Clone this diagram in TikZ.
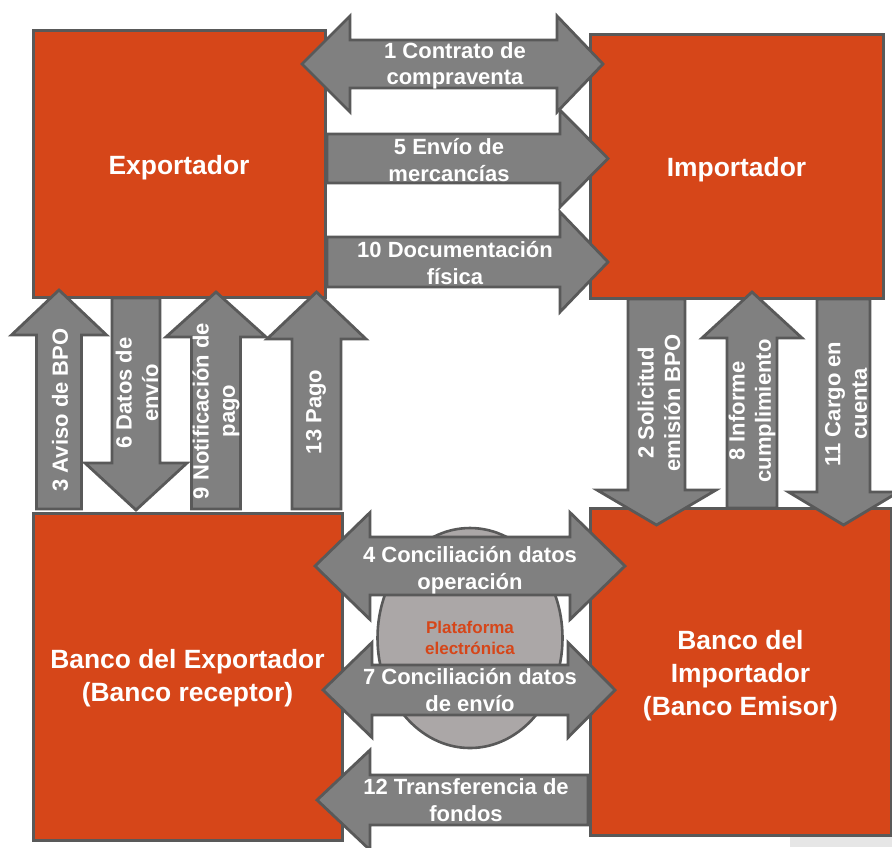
\documentclass[tikz,border=0pt]{standalone}
\usepackage{fontspec}
\setmainfont{Liberation Sans}
\usepackage{tikz}
\usetikzlibrary{shapes.geometric}
\definecolor{boxorange}{HTML}{D64619}
\definecolor{edgegray}{HTML}{595959}
\definecolor{arrowgray}{HTML}{808080}
\definecolor{platgray}{HTML}{ABA7A7}
\definecolor{shadowgray}{HTML}{E6E6E6}
\tikzset{party/.style={draw=edgegray,line width=1.5pt,fill=boxorange,inner sep=0pt},
partyname/.style={text=white,inner sep=0pt,align=center,font=\bfseries\fontsize{13.2}{16.4}\selectfont},
flow/.style={draw=edgegray,line width=1.4pt,fill=arrowgray,line join=miter},
flowlabel/.style={text=white,inner sep=0pt,align=center,font=\bfseries\fontsize{11}{13.2}\selectfont},
vlabel/.style={flowlabel,rotate=90}}

\begin{document}
\begin{tikzpicture}[x=0.5pt,y=-0.5pt]
\useasboundingbox (0,0) rectangle (892,847);
\fill[shadowgray] (790,835) rectangle (892,847);

\node[party,minimum width=146pt,minimum height=133.5pt,label={[partyname,yshift=-2pt]center:Exportador}] (exp) at (179,163.5){};
\node[party,minimum width=146.5pt,minimum height=132pt,label={[partyname,yshift=-2pt]center:Importador}] (imp) at (736.5,166){};
\node[party,minimum width=154.5pt,minimum height=163.5pt,label={[partyname,yshift=-1pt]center:Banco del Exportador\\(Banco receptor)}] (bexp) at (187.5,676.5){};
\node[party,minimum width=150.5pt,minimum height=163.5pt,label={[partyname,yshift=-2pt]center:Banco del\\Importador\\(Banco Emisor)}] (bimp) at (740.5,671.5){};

\node[ellipse,draw=edgegray,line width=1.3pt,fill=platgray,minimum width=92.5pt,minimum height=110pt,inner sep=0pt,align=center,text=boxorange,font=\bfseries\fontsize{8.5}{10.5}\selectfont] (plat) at (470,638){Plataforma\\electrónica};

% vertical arrows: center/shaft/head/start/base/tip
\foreach \c/\ws/\wh/\ys/\yh/\yt in {59/22.5/47.5/509/335/290,216/24.5/50/509/337/292,316.5/24.5/49.5/509/339/292,752/25/50/508/338/292,136/24/51/298/463/510,656.5/28.5/59.5/299/490/525,843.5/26.5/55/299/492/525}{
\draw[flow] (\c-\ws,\ys) -- (\c-\ws,\yh) -- (\c-\wh,\yh) -- (\c,\yt) -- (\c+\wh,\yh) -- (\c+\ws,\yh) -- (\c+\ws,\ys) -- cycle;
}

% horizontal single arrows
\foreach \c/\ws/\wh/\xs/\xh/\xt in {158.5/24.5/48.5/327/560/608,262/25/50/327/560/608,800/25/50/588/370/317}{
\draw[flow] (\xs,\c-\ws) -- (\xh,\c-\ws) -- (\xh,\c-\wh) -- (\xt,\c) -- (\xh,\c+\wh) -- (\xh,\c+\ws) -- (\xs,\c+\ws) -- cycle;
}

% horizontal double arrows
\foreach \c/\ws/\wh/\xa/\xb/\xc/\xd in {64/24/48/302/350/557/603,566/29/53.5/315/370/570/625,690/25/47.5/323/372/568/615}{
\draw[flow] (\xa,\c) -- (\xb,\c-\wh) -- (\xb,\c-\ws) -- (\xc,\c-\ws) -- (\xc,\c-\wh) -- (\xd,\c) -- (\xc,\c+\wh) -- (\xc,\c+\ws) -- (\xb,\c+\ws) -- (\xb,\c+\wh) -- cycle;
}

\node[flowlabel] (l1) at (455,66){1 Contrato de\\compraventa};
\node[flowlabel] (l5) at (449,160){5 Envío de\\mercancías};
\node[flowlabel] (l10) at (455,263){10 Documentación\\física};
\node[flowlabel] (l4) at (470,570){4 Conciliación datos\\operación};
\node[flowlabel] (l7) at (470,690){7 Conciliación datos\\de envío};
\node[flowlabel] (l12) at (466,800){12 Transferencia de\\fondos};

\node[vlabel] (l3) at (60,410){3 Aviso de BPO};
\node[vlabel] (l6) at (137,393){6 Datos de\\envío};
\node[vlabel] (l9) at (216,411){9 Notificación de\\pago};
\node[vlabel] (l13) at (316,412){13 Pago};
\node[vlabel] (l2) at (659,403){2 Solicitud\\emisión BPO};
\node[vlabel] (l8) at (752,411){8 Informe\\cumplimiento};
\node[vlabel] (l11) at (846,404){11 Cargo en\\cuenta};
\end{tikzpicture}
\end{document}
